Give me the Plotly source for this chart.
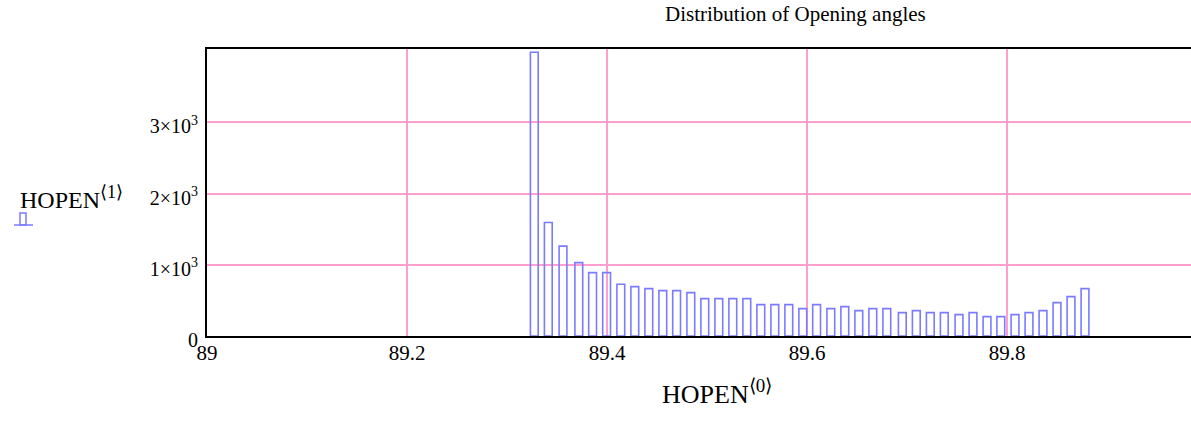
import plotly.graph_objects as go

# Histogram of opening angles: bin centres (deg) and counts
bin_centres = [
    89.3273, 89.3413, 89.3560, 89.3718, 89.3856, 89.3996, 89.4138, 89.4278,
    89.4418, 89.4558, 89.4696, 89.4838, 89.4978, 89.5118, 89.5258, 89.5398,
    89.5538, 89.5678, 89.5818, 89.5958, 89.6096, 89.6238, 89.6378, 89.6518,
    89.6658, 89.6798, 89.6953, 89.7093, 89.7233, 89.7373, 89.7520, 89.7660,
    89.7800, 89.7938, 89.8080, 89.8220, 89.8360, 89.8500, 89.8640, 89.8780,
]
counts = [
    3985, 1594, 1262, 1031, 890, 890, 727, 694,
    665, 637, 637, 609, 525, 525, 525, 525,
    440, 440, 440, 384, 440, 384, 412, 356,
    384, 384, 328, 356, 328, 328, 300, 328,
    272, 272, 300, 328, 356, 469, 553, 665,
]

x_ticks = [89, 89.2, 89.4, 89.6, 89.8]
x_ticktext = ["89", "89.2", "89.4", "89.6", "89.8"]
y_ticks = [0, 1000, 2000, 3000]
y_ticktext = ["0", "1×10<sup>3</sup>", "2×10<sup>3</sup>", "3×10<sup>3</sup>"]

title_text = "Distribution of Opening angles"
x_label = "HOPEN<sup><span style='font-size:19px'>⟨0⟩</span></sup>"
y_label = "HOPEN<sup><span style='font-size:18px'>⟨1⟩</span></sup>"

FONT = "Liberation Serif"
BAR_COLOR = "#7b7bff"
GRID_COLOR = "#ff9fd0"

W, H = 1191, 421
L, R, T, B = 207, 0, 49, 85
PW, PH = W - L - R, H - T - B


def px(x):
    return (x - L) / PW


def py(y):
    return (H - B - y) / PH


fig = go.Figure()
fig.add_trace(go.Bar(
    x=bin_centres,
    y=counts,
    width=0.0078,
    marker=dict(color="rgba(0,0,0,0)", line=dict(color=BAR_COLOR, width=1.6)),
    showlegend=False,
))

fig.update_layout(
    template="none",
    width=W, height=H,
    margin=dict(l=L, r=R, t=T, b=B),
    paper_bgcolor="white",
    plot_bgcolor="white",
    font=dict(family=FONT, size=21, color="black"),
    annotations=[
        dict(text=title_text, x=px(795), y=py(14), xref="paper", yref="paper",
             xanchor="center", yanchor="middle", showarrow=False,
             font=dict(size=21)),
        dict(text=x_label, x=px(660), y=py(392), xref="paper", yref="paper",
             xanchor="left", yanchor="middle", showarrow=False,
             font=dict(size=26)),
        dict(text=y_label, x=px(18), y=py(197), xref="paper", yref="paper",
             xanchor="left", yanchor="middle", showarrow=False,
             font=dict(size=24)),
    ],
    shapes=[
        # small series key under the y-axis label
        dict(type="line", xref="paper", yref="paper",
             x0=px(14), x1=px(33), y0=py(225), y1=py(225),
             line=dict(color=BAR_COLOR, width=1.5)),
        dict(type="rect", xref="paper", yref="paper",
             x0=px(20), x1=px(26), y0=py(225), y1=py(213),
             line=dict(color=BAR_COLOR, width=1.5), fillcolor="rgba(0,0,0,0)"),
    ],
)
fig.update_xaxes(
    range=[89, 89.984],
    tickvals=x_ticks, ticktext=x_ticktext,
    ticks="", showgrid=True, gridcolor=GRID_COLOR, gridwidth=1.6,
    showline=True, linecolor="black", linewidth=2, mirror=True,
    zeroline=False, tickfont=dict(size=21, family=FONT),
    ticklabelstandoff=-3,
)
fig.update_yaxes(
    range=[0, 4030],
    tickvals=y_ticks, ticktext=y_ticktext,
    ticks="", showgrid=True, gridcolor=GRID_COLOR, gridwidth=1.6,
    showline=True, linecolor="black", linewidth=2, mirror=False,
    zeroline=False, tickfont=dict(size=20, family=FONT),
    ticklabelstandoff=3, ticklabelshift=4,
)

fig.write_html("out.html")
